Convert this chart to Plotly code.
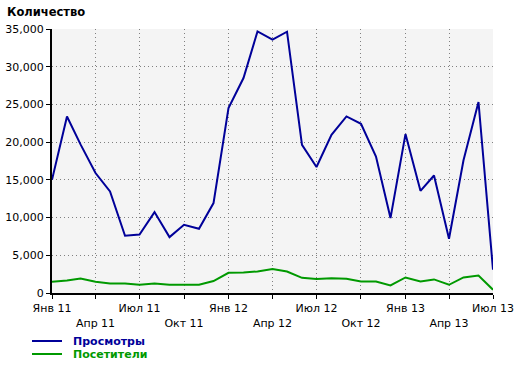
import plotly.graph_objects as go
import pandas as pd

months = [d.strftime("%Y-%m-%d") for d in pd.date_range("2011-01-01", "2013-07-01", freq="MS")]
views = [15000, 23400, 19700, 15900, 13460, 7590, 7760, 10730, 7410, 9045, 8515, 11920,
         24520, 28500, 34680, 33580, 34640, 19650, 16700, 20980, 23410, 22440, 18100, 9930,
         21070, 13550, 15580, 7190, 17600, 25320, 3080]
visitors = [1485, 1650, 1920, 1490, 1260, 1260, 1090, 1260, 1090, 1090, 1090, 1580,
            2680, 2720, 2850, 3170, 2850, 2010, 1840, 1970, 1880, 1530, 1530, 1000,
            2060, 1530, 1800, 1090, 2060, 2320, 430]
tick_vals = ["2011-01-01", "2011-04-01", "2011-07-01", "2011-10-01", "2012-01-01", "2012-04-01",
             "2012-07-01", "2012-10-01", "2013-01-01", "2013-04-01", "2013-07-01"]
tick_text = ["Янв 11", "Апр 11", "Июл 11", "Окт 11", "Янв 12", "Апр 12",
             "Июл 12", "Окт 12", "Янв 13", "Апр 13", "Июл 13"]
series_names = ["Просмотры", "Посетители"]

FONT = "DejaVu Sans"
BLUE = "#000099"
GREEN = "#009900"
colors = [BLUE, GREEN]

L, R, T, B = 52, 27, 29, 73
W, H = 520, 366
PW, PH = W - L - R, H - T - B


def px_x(px):
    return (px - L) / PW


def px_y(py):
    return (H - B - py) / PH


fig = go.Figure()
for name, vals, col in zip(series_names, [views, visitors], colors):
    fig.add_trace(go.Scatter(x=months, y=vals, mode="lines", name=name,
                             line=dict(color=col, width=2), showlegend=False))

ttext = [t if i % 2 == 0 else "<br>" + t for i, t in enumerate(tick_text)]

shapes = []
annotations = [dict(text="<b>Количество</b>", xref="paper", yref="paper",
                    x=px_x(5), y=px_y(12), xanchor="left", yanchor="middle",
                    showarrow=False, font=dict(size=11.5, family=FONT))]
for i, (name, col) in enumerate(zip(series_names, colors)):
    yy = px_y(341 + 13 * i)
    shapes.append(dict(type="line", xref="paper", yref="paper",
                       x0=px_x(32), x1=px_x(62), y0=yy, y1=yy,
                       line=dict(color=col, width=2)))
    annotations.append(dict(text=f"<b>{name}</b>", xref="paper", yref="paper",
                            x=px_x(71), y=yy, xanchor="left", yanchor="middle",
                            showarrow=False, font=dict(size=11, family=FONT, color=col)))

fig.update_layout(
    width=W, height=H,
    margin=dict(l=L, r=R, t=T, b=B),
    paper_bgcolor="white", plot_bgcolor="#f4f4f4",
    font=dict(family=FONT, size=11, color="black"),
    showlegend=False,
    xaxis=dict(type="date", range=["2011-01-01", "2013-07-01"],
               tickvals=tick_vals, ticktext=ttext, tickangle=0, automargin=False,
               showline=True, linecolor="black", linewidth=2,
               ticks="outside", ticklen=4, tickcolor="black",
               showgrid=True, gridcolor="#808080", griddash="1px,3px", gridwidth=1,
               zeroline=False),
    yaxis=dict(range=[0, 35000], dtick=5000, tickformat=",", automargin=False,
               showline=True, linecolor="black", linewidth=2,
               ticks="outside", ticklen=4, tickcolor="black",
               showgrid=True, gridcolor="#808080", griddash="1px,3px", gridwidth=1,
               zeroline=False),
    shapes=shapes,
    annotations=annotations,
)
fig.write_html("out.html")
